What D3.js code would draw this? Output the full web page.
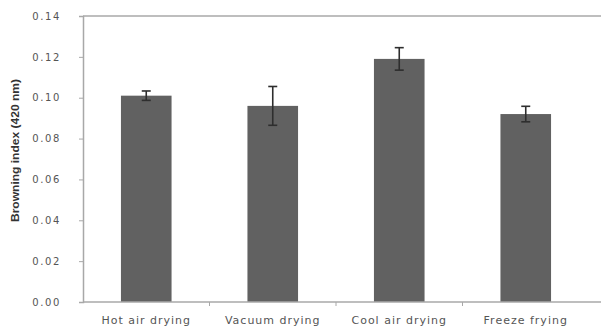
<!DOCTYPE html>
<html>
<head>
<meta charset="utf-8">
<script src="https://cdn.jsdelivr.net/npm/d3@7"></script>
<style>
  html, body { margin: 0; padding: 0; background: #fff; }
  svg { display: block; }
</style>
</head>
<body>
<svg id="chart" width="601" height="330"></svg>
<script>
// Browning index (420 nm) by drying method, mean ± error
const categories = ["Hot air drying", "Vacuum drying", "Cool air drying", "Freeze frying"];
const values = [0.101, 0.096, 0.119, 0.092];
const errors = [0.0023, 0.0095, 0.0055, 0.0038];
const yTicks = [0, 0.02, 0.04, 0.06, 0.08, 0.10, 0.12, 0.14];
const yLabel = "Browning index (420 nm)";

const svg = d3.select("#chart");
const plotLeft = 83, plotRight = 589, plotTop = 16, plotBottom = 302, frameRight = 601;

const x = d3.scaleBand().domain(categories).range([plotLeft, plotRight]).paddingInner(0).paddingOuter(0);
const y = d3.scaleLinear().domain([0, 0.14]).range([plotBottom, plotTop]);
const barW = x.bandwidth() * 0.4;

const textColor = "#555";
const axisColor = "#a8a8a8";

// plot frame: top edge
svg.append("line")
  .attr("x1", plotLeft).attr("x2", frameRight)
  .attr("y1", y(0.14)).attr("y2", y(0.14))
  .attr("stroke", axisColor).attr("stroke-width", 1.5);

// y axis
const yAxis = svg.append("g").attr("transform", `translate(${plotLeft},0)`)
  .call(d3.axisLeft(y).tickValues(yTicks).tickFormat(d3.format(".2f")).tickSize(4).tickPadding(18));
yAxis.select(".domain").attr("stroke", axisColor).attr("stroke-width", 1.5);
yAxis.selectAll(".tick line").attr("stroke", axisColor);
yAxis.selectAll(".tick text")
  .attr("fill", textColor)
  .style("font-family", "DejaVu Sans, sans-serif")
  .style("font-size", "10px")
  .style("letter-spacing", "1.6px");

// bars
svg.append("g").selectAll("rect")
  .data(categories)
  .join("rect")
  .attr("x", (d) => x(d) + (x.bandwidth() - barW) / 2)
  .attr("width", barW)
  .attr("y", (d, i) => y(values[i]))
  .attr("height", (d, i) => y(0) - y(values[i]))
  .attr("fill", "#616161");

// error bars
const eb = svg.append("g").attr("stroke", "#2e2e2e").attr("stroke-width", 1.6);
categories.forEach((c, i) => {
  const cx = x(c) + x.bandwidth() / 2;
  const hi = y(values[i] + errors[i]);
  const lo = y(values[i] - errors[i]);
  eb.append("line").attr("x1", cx).attr("x2", cx).attr("y1", hi).attr("y2", lo);
  eb.append("line").attr("x1", cx - 4.5).attr("x2", cx + 4.5).attr("y1", hi).attr("y2", hi);
  eb.append("line").attr("x1", cx - 4.5).attr("x2", cx + 4.5).attr("y1", lo).attr("y2", lo);
});

// x axis with ticks between categories
const xAxisG = svg.append("g").attr("transform", `translate(0,${plotBottom})`);
xAxisG.append("line")
  .attr("x1", plotLeft).attr("x2", frameRight)
  .attr("stroke", axisColor).attr("stroke-width", 1.5);
xAxisG.selectAll("line.tk")
  .data(categories.slice(1))
  .join("line")
  .attr("class", "tk")
  .attr("x1", (d) => x(d)).attr("x2", (d) => x(d))
  .attr("y1", 0).attr("y2", 4)
  .attr("stroke", axisColor);
xAxisG.selectAll("text")
  .data(categories)
  .join("text")
  .attr("x", (d) => x(d) + x.bandwidth() / 2)
  .attr("y", 22)
  .attr("text-anchor", "middle")
  .attr("fill", textColor)
  .style("font-family", "DejaVu Sans, sans-serif")
  .style("font-size", "11px")
  .style("letter-spacing", "1px")
  .text((d) => d);

// y axis title
svg.append("text")
  .attr("transform", `translate(19,${(79 + 222) / 2}) rotate(-90)`)
  .attr("text-anchor", "middle")
  .attr("fill", "#333")
  .attr("textLength", 143)
  .attr("lengthAdjust", "spacingAndGlyphs")
  .style("font-family", "Liberation Sans Narrow, Liberation Sans, sans-serif")
  .style("font-size", "10.5px")
  .style("font-weight", "bold")
  .text(yLabel);
</script>
</body>
</html>
